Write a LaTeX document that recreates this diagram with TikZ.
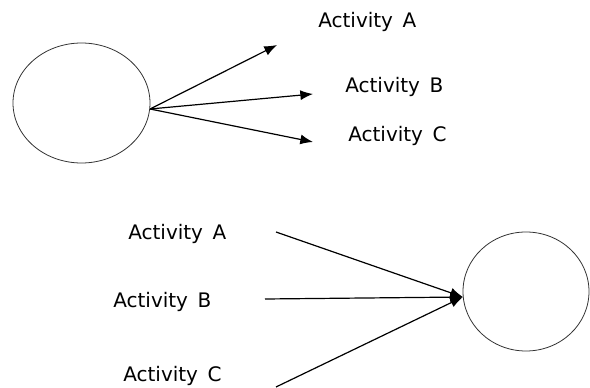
\documentclass[tikz,border=0pt]{standalone}
\usepackage{fontspec}
\setmainfont{DejaVu Sans}
\usepackage{tikz}
\usetikzlibrary{arrows.meta,positioning,shapes.geometric}
\pgfdeclarelayer{edgelayer}
\pgfdeclarelayer{nodelayer}
\pgfsetlayers{edgelayer,nodelayer,main}
\tikzset{font=\fontsize{15}{18}\selectfont}
\tikzstyle{none}=[inner sep=0pt]
\tikzstyle{event}=[ellipse,draw=black!80,line width=0.6pt,inner sep=0pt]
\tikzstyle{activity}=[inner sep=0pt,anchor=base west]
\tikzstyle{actarrow}=[-{Latex[length=9.5pt,width=7.5pt]},line width=0.9pt]

\begin{document}
\begin{tikzpicture}[x=0.75pt,y=-0.75pt]
	\useasboundingbox (0,0) rectangle (590,388);
	\begin{pgfonlayer}{nodelayer}
		\node [style=event, minimum width=102.75pt, minimum height=90pt] (E1) at (81.5,103) {};
		\node [style=event, minimum width=94.5pt, minimum height=89.25pt] (E2) at (526,291.5) {};
		\node [style=activity] (A1) at (318,28) {Activity\, A};
		\node [style=activity] (B1) at (345,92.5) {Activity\, B};
		\node [style=activity] (C1) at (348,141.5) {Activity\, C};
		\node [style=activity] (A2) at (128,240) {Activity\, A};
		\node [style=activity] (B2) at (113,308) {Activity\, B};
		\node [style=activity] (C2) at (123,382) {Activity\, C};
		\coordinate (tA) at (277,45);
		\coordinate (tB) at (313,94);
		\coordinate (tC) at (313,142);
		\coordinate (sA) at (276,232);
		\coordinate (sB) at (265,299);
		\coordinate (sC) at (276,387);
	\end{pgfonlayer}
	\begin{pgfonlayer}{edgelayer}
		\draw [style=actarrow] (E1.-5) to (tA);
		\draw [style=actarrow] (E1.-5) to (tB);
		\draw [style=actarrow] (E1.-5) to (tC);
		\draw [style=actarrow] (sA) to (E2.185);
		\draw [style=actarrow] (sB) to (E2.185);
		\draw [style=actarrow] (sC) to (E2.185);
	\end{pgfonlayer}
\end{tikzpicture}
\end{document}
